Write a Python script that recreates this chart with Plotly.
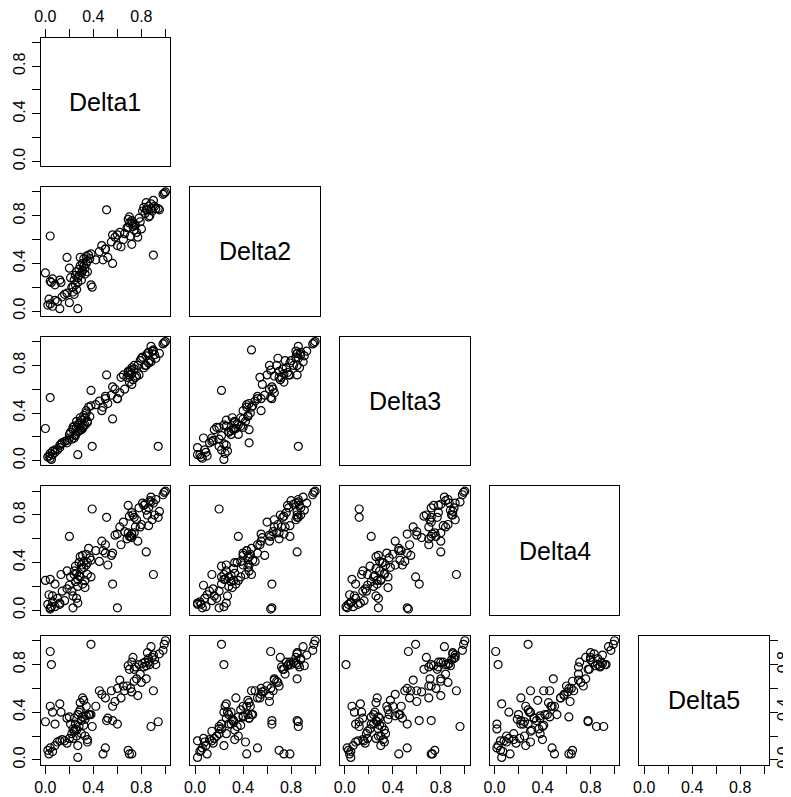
import plotly.graph_objects as go

# ---------------- data ----------------
names = ["Delta1", "Delta2", "Delta3", "Delta4", "Delta5"]

delta1 = [1.00, 0.99, 0.98, 0.90, 0.88, 0.86, 0.92, 0.85, 0.83, 0.89, 0.87, 0.84, 0.91, 0.82, 0.95, 0.86, 0.81,
          0.72, 0.75, 0.70, 0.78, 0.74, 0.68, 0.76, 0.71, 0.79, 0.66, 0.73, 0.77, 0.69, 0.80, 0.72, 0.74,
          0.60, 0.55, 0.62, 0.50, 0.45, 0.58, 0.52, 0.47, 0.65, 0.42, 0.63,
          0.51, 0.90, 0.94, 0.56, 0.56, 0.60, 0.70, 0.48, 0.50, 0.88, 0.84, 0.72, 0.69,
          0.02, 0.04, 0.06, 0.08, 0.10, 0.12, 0.14, 0.16, 0.18, 0.20, 0.04, 0.06, 0.08, 0.12, 0.13, 0.00, 0.05, 0.04, 0.03,
          0.22, 0.24, 0.25, 0.26, 0.27, 0.28, 0.29, 0.30, 0.31, 0.32, 0.33, 0.34, 0.35, 0.36, 0.23, 0.25, 0.27, 0.28,
          0.30, 0.31, 0.32, 0.33, 0.24, 0.26, 0.29, 0.34, 0.37, 0.38, 0.21, 0.35, 0.18, 0.27, 0.23, 0.39, 0.38, 0.20]

delta2 = [1.00, 0.99, 0.98, 0.93, 0.90, 0.88, 0.86, 0.85, 0.82, 0.84, 0.80, 0.91, 0.88, 0.87, 0.85, 0.79, 0.84,
          0.76, 0.72, 0.74, 0.78, 0.68, 0.70, 0.66, 0.63, 0.75, 0.65, 0.71, 0.62, 0.77, 0.69, 0.56, 0.73,
          0.55, 0.58, 0.66, 0.52, 0.50, 0.62, 0.45, 0.55, 0.60, 0.43, 0.54,
          0.85, 0.47, 0.86, 0.40, 0.64, 0.64, 0.79, 0.43, 0.52, 0.86, 0.85, 0.74, 0.70,
          0.05, 0.06, 0.04, 0.09, 0.08, 0.02, 0.12, 0.14, 0.15, 0.07, 0.25, 0.27, 0.22, 0.26, 0.24, 0.32, 0.24, 0.63, 0.10,
          0.20, 0.26, 0.30, 0.33, 0.28, 0.35, 0.38, 0.32, 0.40, 0.44, 0.36, 0.46, 0.42, 0.47, 0.16, 0.22, 0.24, 0.30,
          0.26, 0.34, 0.38, 0.31, 0.14, 0.18, 0.45, 0.40, 0.44, 0.48, 0.28, 0.33, 0.45, 0.02, 0.20, 0.20, 0.22, 0.36]

delta3 = [1.00, 0.99, 0.98, 0.92, 0.83, 0.91, 0.86, 0.90, 0.80, 0.92, 0.84, 0.88, 0.89, 0.78, 0.90, 0.82, 0.87,
          0.78, 0.70, 0.66, 0.72, 0.80, 0.70, 0.71, 0.76, 0.84, 0.60, 0.68, 0.80, 0.74, 0.86, 0.64, 0.77,
          0.52, 0.55, 0.57, 0.54, 0.50, 0.60, 0.48, 0.42, 0.72, 0.47, 0.70,
          0.72, 0.93, 0.12, 0.35, 0.62, 0.52, 0.72, 0.45, 0.52, 0.96, 0.80, 0.73, 0.75,
          0.03, 0.02, 0.05, 0.07, 0.09, 0.11, 0.15, 0.16, 0.17, 0.19, 0.06, 0.08, 0.09, 0.13, 0.14, 0.27, 0.01, 0.53, 0.04,
          0.18, 0.29, 0.22, 0.33, 0.24, 0.31, 0.36, 0.26, 0.28, 0.38, 0.30, 0.40, 0.33, 0.45, 0.26, 0.21, 0.30, 0.25,
          0.34, 0.27, 0.29, 0.36, 0.19, 0.28, 0.26, 0.42, 0.37, 0.46, 0.24, 0.32, 0.15, 0.05, 0.28, 0.12, 0.59, 0.22]

delta4 = [1.00, 0.99, 0.97, 0.90, 0.95, 0.86, 0.93, 0.80, 0.89, 0.76, 0.92, 0.84, 0.80, 0.88, 0.83, 0.71, 0.90,
          0.82, 0.70, 0.79, 0.86, 0.65, 0.60, 0.76, 0.62, 0.70, 0.66, 0.80, 0.58, 0.88, 0.72, 0.61, 0.78,
          0.64, 0.46, 0.70, 0.55, 0.41, 0.63, 0.38, 0.58, 0.74, 0.50, 0.55,
          0.78, 0.30, 0.78, 0.48, 0.22, 0.02, 0.62, 0.50, 0.48, 0.91, 0.49, 0.64, 0.65,
          0.05, 0.02, 0.07, 0.03, 0.10, 0.05, 0.16, 0.08, 0.18, 0.21, 0.26, 0.12, 0.22, 0.06, 0.30, 0.25, 0.03, 0.01, 0.13,
          0.16, 0.33, 0.24, 0.31, 0.20, 0.40, 0.28, 0.35, 0.46, 0.36, 0.25, 0.47, 0.30, 0.52, 0.12, 0.37, 0.26, 0.29,
          0.38, 0.22, 0.41, 0.19, 0.30, 0.10, 0.45, 0.38, 0.44, 0.42, 0.28, 0.40, 0.33, 0.06, 0.02, 0.85, 0.28, 0.62]

delta5 = [1.00, 0.97, 0.92, 0.88, 0.95, 0.85, 0.80, 0.90, 0.82, 0.86, 0.80, 0.79, 0.84, 0.78, 0.89, 0.82, 0.81,
          0.82, 0.78, 0.76, 0.80, 0.66, 0.62, 0.68, 0.60, 0.72, 0.58, 0.86, 0.54, 0.79, 0.65, 0.57, 0.76,
          0.60, 0.58, 0.67, 0.52, 0.58, 0.49, 0.35, 0.55, 0.62, 0.45, 0.52,
          0.33, 0.58, 0.32, 0.45, 0.33, 0.30, 0.05, 0.05, 0.10, 0.28, 0.68, 0.05, 0.08,
          0.08, 0.10, 0.07, 0.12, 0.15, 0.16, 0.17, 0.16, 0.14, 0.18, 0.45, 0.40, 0.30, 0.47, 0.40, 0.32, 0.80, 0.91, 0.05,
          0.22, 0.35, 0.30, 0.25, 0.38, 0.28, 0.42, 0.33, 0.36, 0.50, 0.20, 0.45, 0.15, 0.38, 0.18, 0.26, 0.12, 0.40,
          0.22, 0.52, 0.29, 0.34, 0.24, 0.20, 0.48, 0.37, 0.38, 0.38, 0.30, 0.17, 0.35, 0.02, 0.26, 0.28, 0.97, 0.36]

tick_vals = [0.0, 0.2, 0.4, 0.6, 0.8, 1.0]
tick_text = ["0.0", "", "0.4", "", "0.8", ""]

deltas = [delta1, delta2, delta3, delta4, delta5]

# ---------------- layout geometry ----------------
# the page body has an 8px margin, so the figure is placed at (8, 8)
OFF = 8
W, H = 791 - OFF, 797 - OFF
col_x0, row_y0 = 40.6 - OFF, 37.6 - OFF
step_x, step_y = 149.7, 149.6
pw, ph = 129.6, 128.6
axis_range = [-0.04, 1.04]
FONT = "Liberation Sans, Arial, Helvetica, sans-serif"

fig = go.Figure()
layout = dict(
    width=W, height=H,
    margin=dict(l=0, r=0, t=0, b=0, autoexpand=False),
    paper_bgcolor="white", plot_bgcolor="white",
    showlegend=False,
    font=dict(family=FONT, color="black"),
)
annotations = []

k = 0
for r in range(5):
    for c in range(r + 1):
        k += 1
        xa = "xaxis" if k == 1 else f"xaxis{k}"
        ya = "yaxis" if k == 1 else f"yaxis{k}"
        xs = "x" if k == 1 else f"x{k}"
        ys = "y" if k == 1 else f"y{k}"

        px0 = col_x0 + step_x * c
        px1 = px0 + pw
        py0 = row_y0 + step_y * r
        py1 = py0 + ph
        xdom = [px0 / W, px1 / W]
        ydom = [1 - py1 / H, 1 - py0 / H]

        base = dict(range=axis_range, showline=True, mirror=True, linecolor="black",
                    linewidth=1, showgrid=False, zeroline=False, automargin=False,
                    tickmode="array", tickvals=tick_vals, ticktext=tick_text,
                    tickfont=dict(family=FONT, size=16, color="black"),
                    ticklen=8, tickwidth=1, tickcolor="black", fixedrange=True)

        xconf = dict(base, domain=xdom, anchor=ys)
        if r == 4:
            xconf.update(side="bottom", ticks="outside", showticklabels=True)
        elif r == 0 and c == 0:
            xconf.update(side="top", ticks="outside", showticklabels=True)
        else:
            xconf.update(ticks="", showticklabels=False)

        yconf = dict(base, domain=ydom, anchor=xs)
        if c == 0:
            yconf.update(side="left", ticks="outside", showticklabels=True, tickangle=-90)
        elif r == 4 and c == 4:
            yconf.update(side="right", ticks="outside", showticklabels=True, tickangle=-90,
                         ticklabelstandoff=-8)
        else:
            yconf.update(ticks="", showticklabels=False)

        layout[xa] = xconf
        layout[ya] = yconf

        if r == c:
            fig.add_trace(go.Scatter(x=[], y=[], xaxis=xs, yaxis=ys, mode="markers",
                                     hoverinfo="skip"))
            annotations.append(dict(x=(xdom[0] + xdom[1]) / 2, y=(ydom[0] + ydom[1]) / 2,
                                    xref="paper", yref="paper", text=names[r], showarrow=False,
                                    font=dict(family=FONT, size=25, color="black"),
                                    xanchor="center", yanchor="middle"))
        else:
            fig.add_trace(go.Scatter(
                x=deltas[c], y=deltas[r], xaxis=xs, yaxis=ys, mode="markers",
                marker=dict(symbol="circle-open", size=8, color="black",
                            line=dict(width=1.2, color="black")),
                cliponaxis=False,
            ))

layout["annotations"] = annotations
fig.update_layout(**layout)
fig.write_html("out.html")
